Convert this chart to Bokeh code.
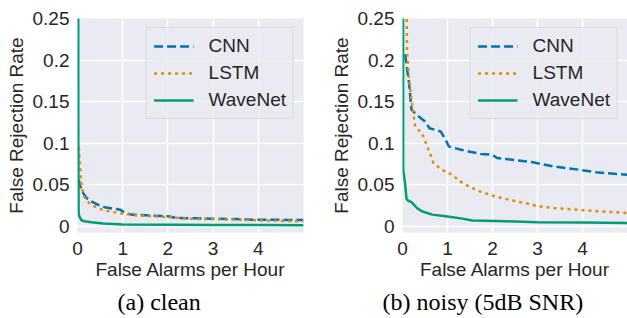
from bokeh.plotting import figure
from bokeh.layouts import row
from bokeh.models import Range1d, FixedTicker, Title
from bokeh.embed import file_html
from bokeh.resources import INLINE

# ---- data ----
SERIES = ["CNN", "LSTM", "WaveNet"]
COLORS = ["#0173b2", "#de8f05", "#029e73"]
DASHES = ["9 4", "3 4", "solid"]

X_TICKS = [0, 1, 2, 3, 4]
Y_TICKS = [0, 0.05, 0.1, 0.15, 0.2, 0.25]
Y_TICK_LABELS = ["0", "0.05", "0.1", "0.15", "0.2", "0.25"]

clean_cnn_x = [0.03, 0.05, 0.1, 0.2, 0.3, 0.45, 0.6, 0.8, 0.95, 1.05, 1.2, 1.6, 2.0, 2.2, 2.6, 3.0, 3.5, 3.8, 4.3, 5.0]
clean_cnn_y = [0.056, 0.05, 0.042, 0.034, 0.03, 0.026, 0.023, 0.021, 0.02, 0.016, 0.014, 0.013, 0.012, 0.01, 0.0095, 0.009, 0.0088, 0.008, 0.0078, 0.0075]
clean_lstm_x = [0.03, 0.04, 0.06, 0.08, 0.1, 0.15, 0.2, 0.3, 0.45, 0.6, 0.8, 1.0, 1.3, 1.7, 2.0, 2.5, 3.0, 3.5, 4.0, 4.5, 5.0]
clean_lstm_y = [0.095, 0.085, 0.07, 0.055, 0.045, 0.036, 0.031, 0.026, 0.022, 0.019, 0.017, 0.015, 0.013, 0.012, 0.011, 0.009, 0.0085, 0.008, 0.007, 0.0065, 0.006]
clean_wavenet_x = [0.015, 0.018, 0.025, 0.04, 0.09, 0.15, 0.31, 0.57, 1.0, 2.0, 3.0, 4.0, 5.0]
clean_wavenet_y = [0.3, 0.1, 0.016, 0.012, 0.0072, 0.006, 0.0048, 0.0032, 0.002, 0.0018, 0.0016, 0.0014, 0.0012]

noisy_cnn_x = [0.06, 0.1, 0.15, 0.2, 0.32, 0.5, 0.6, 0.85, 0.96, 1.03, 1.3, 1.74, 2.0, 2.1, 2.3, 2.9, 3.35, 3.93, 4.3, 5.0]
noisy_cnn_y = [0.207, 0.19, 0.17, 0.14, 0.134, 0.126, 0.118, 0.114, 0.104, 0.096, 0.092, 0.087, 0.086, 0.082, 0.081, 0.077, 0.072, 0.068, 0.065, 0.062]
noisy_lstm_x = [0.085, 0.1, 0.14, 0.2, 0.25, 0.28, 0.43, 0.58, 0.69, 0.87, 1.1, 1.28, 1.47, 1.76, 2.06, 2.36, 2.8, 3.0, 3.35, 4.08, 5.0]
noisy_lstm_y = [0.3, 0.212, 0.18, 0.152, 0.132, 0.12, 0.112, 0.092, 0.076, 0.068, 0.062, 0.054, 0.048, 0.041, 0.036, 0.032, 0.027, 0.024, 0.022, 0.019, 0.016]
noisy_wavenet_x = [0.012, 0.015, 0.05, 0.09, 0.12, 0.2, 0.32, 0.43, 0.66, 0.96, 1.33, 1.55, 2.3, 3.0, 4.0, 5.0]
noisy_wavenet_y = [0.3, 0.068, 0.055, 0.033, 0.031, 0.029, 0.022, 0.018, 0.014, 0.012, 0.0092, 0.007, 0.006, 0.0048, 0.0044, 0.004]

CAPTIONS = ["(a) clean", "(b) noisy (5dB SNR)"]

SANS = "Liberation Sans"
SERIF = "Liberation Serif"
TXT = "#262626"
FS = "19px"


def make_panel(xs, ys, caption, width, border_left, border_right, cap_offset):
    p = figure(width=width, height=318, output_backend="svg", toolbar_location=None,
               x_range=Range1d(0, 5), y_range=Range1d(-0.0075, 0.25),
               min_border_left=border_left, min_border_right=border_right,
               min_border_top=18, min_border_bottom=0)
    p.background_fill_color = "#eaeaf2"
    p.border_fill_color = "white"
    p.outline_line_color = None
    for name, x, y, c, d in zip(SERIES, xs, ys, COLORS, DASHES):
        p.line(x, y, line_color=c, line_width=2.5, line_dash=d, legend_label=name)

    p.xaxis.ticker = FixedTicker(ticks=X_TICKS)
    p.yaxis.ticker = FixedTicker(ticks=Y_TICKS)
    p.yaxis.major_label_overrides = {t: l for t, l in zip(Y_TICKS, Y_TICK_LABELS)}
    for ax in (p.xaxis[0], p.yaxis[0]):
        ax.axis_line_color = None
        ax.major_tick_line_color = None
        ax.minor_tick_line_color = None
        ax.major_tick_out = 0
        ax.major_tick_in = 0
        ax.major_label_text_font = SANS
        ax.major_label_text_font_size = FS
        ax.major_label_text_color = TXT
        ax.axis_label_text_font = SANS
        ax.axis_label_text_font_size = FS
        ax.axis_label_text_font_style = "normal"
        ax.axis_label_text_color = TXT
    p.xaxis.axis_label = "False Alarms per Hour"
    p.yaxis.axis_label = "False Rejection Rate"
    p.xaxis.major_label_standoff = 9
    p.xaxis.axis_label_standoff = 1
    p.yaxis.major_label_standoff = 8
    p.yaxis.axis_label_standoff = 3

    p.grid.grid_line_color = "white"
    p.grid.grid_line_width = 1.5

    lg = p.legend[0]
    lg.location = "top_right"
    lg.margin = 9
    lg.padding = 7
    lg.spacing = 5
    lg.label_height = 22
    lg.glyph_height = 22
    lg.glyph_width = 40
    lg.label_standoff = 15
    lg.label_text_font = SANS
    lg.label_text_font_size = FS
    lg.label_text_color = TXT
    lg.background_fill_color = "#eaeaf2"
    lg.background_fill_alpha = 0.8
    lg.border_line_color = "#cccccc"
    lg.border_line_width = 1

    t = Title(text=caption, align="left", offset=cap_offset, text_font=SERIF,
              text_font_size="24px", text_font_style="normal", text_color="black",
              standoff=8)
    p.add_layout(t, "below")
    return p


p1 = make_panel([clean_cnn_x, clean_lstm_x, clean_wavenet_x],
                [clean_cnn_y, clean_lstm_y, clean_wavenet_y],
                CAPTIONS[0], 326, 77, 23, 40)
p2 = make_panel([noisy_cnn_x, noisy_lstm_x, noisy_wavenet_x],
                [noisy_cnn_y, noisy_lstm_y, noisy_wavenet_y],
                CAPTIONS[1], 301, 76, 0, -20)

layout = row(p1, p2)
open("out.html", "w").write(file_html(layout, INLINE))
